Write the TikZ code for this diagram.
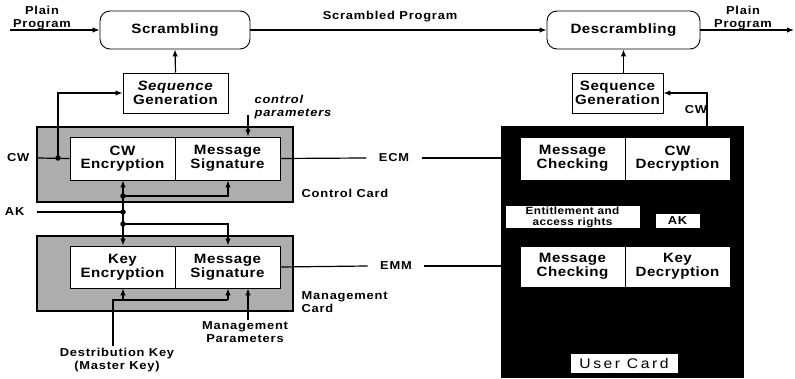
\documentclass[tikz,border=0pt]{standalone}
\usepackage{fontspec}
\setmainfont{Liberation Sans}
\newfontfamily\hv{Liberation Sans}[FakeStretch=1.12]
\newcommand\bxfont{\hv\bfseries\fontsize{13.5}{12.5}\selectfont\addfontfeatures{LetterSpace=4}}
\newcommand\lbfont{\hv\bfseries\fontsize{11.5}{13.5}\selectfont\addfontfeatures{LetterSpace=7}}
\newcommand\entfont{\hv\bfseries\fontsize{10.5}{11}\selectfont\addfontfeatures{LetterSpace=4}}
\newcommand\ucfont{\hv\fontsize{14}{14}\selectfont\addfontfeatures{LetterSpace=18}}
\usetikzlibrary{arrows.meta}
\tikzset{
  wb/.style={draw, line width=0.9pt, fill=white, inner sep=0pt, align=center, font=\bxfont},
  card/.style={draw, line width=1.8pt, fill=black!32, inner sep=0pt},
  lbl/.style={inner sep=1pt, align=center, font=\lbfont},
  arr/.style={-{Latex[length=7pt,width=5.5pt]}},
  jdot/.style={circle, fill, inner sep=0pt, minimum size=5.5pt},
}
\begin{document}
\begin{tikzpicture}[x=1pt,y=-1pt,line width=1.2pt]
\useasboundingbox (0,0) rectangle (795,379);

% top row
\node[wb, rounded corners=10pt, minimum width=150pt, minimum height=38pt] (scr) at (175,30) {Scrambling};
\node[wb, rounded corners=10pt, minimum width=153pt, minimum height=38pt] (descr) at (623.5,30) {Descrambling};
\node[wb, minimum width=105pt, minimum height=40pt] (seqL) at (175.5,93) {\textit{Sequence}\\Generation};
\node[wb, minimum width=91pt, minimum height=40pt] (seqR) at (617.5,93) {Sequence\\Generation};

\node[lbl] (ppin) at (42,18) {Plain\\Program};
\node[lbl] (ppout) at (743,18) {Plain\\Program};
\node[lbl] (scrprog) at (390,17) {Scrambled Program};
\coordinate (pin) at (10,30);
\coordinate (pout) at (794,30);

% control card
\node[card, minimum width=256pt, minimum height=75pt] (ccard) at (165,164.5) {};
\node[wb, minimum width=105pt, minimum height=43pt] (cwenc) at (122.5,158.5) {CW\\Encryption};
\node[wb, minimum width=105pt, minimum height=43pt] (msig1) at (227.5,158.5) {Message\\Signature};
\node[lbl, anchor=west] (cclbl) at (300,193) {Control Card};
\node[lbl, anchor=west, align=left, font=\lbfont\itshape] (cplbl) at (253,107) {control\\parameters};

% management card
\node[card, minimum width=256pt, minimum height=75pt] (mcard) at (165,273.5) {};
\node[wb, minimum width=105pt, minimum height=42pt] (keyenc) at (122.5,267) {Key\\Encryption};
\node[wb, minimum width=105pt, minimum height=42pt] (msig2) at (227.5,267) {Message\\Signature};
\node[lbl, anchor=west, align=left] (mclbl) at (300,302) {Management\\Card};
\node[lbl] (mplbl) at (245,332) {Management\\Parameters};
\node[lbl] (dklbl) at (117,360) {Destribution Key\\(Master Key)};

% left labels
\node[lbl, anchor=east, inner xsep=7pt] (cwl) at (37,158) {CW};
\node[lbl, anchor=east, inner xsep=12pt] (akl) at (37,212) {AK};
\node[lbl, inner xsep=12pt] (ecm) at (394,158) {ECM};
\node[lbl, inner xsep=12pt] (emm) at (396,266) {EMM};

% user card
\node[draw, fill=black, line width=1pt, minimum width=242pt, minimum height=250pt] (ucard) at (622,252) {};
\node[wb, minimum width=105pt, minimum height=43pt] (mchk1) at (572.5,158.5) {Message\\Checking};
\node[wb, minimum width=105pt, minimum height=43pt] (cwdec) at (677.5,158.5) {CW\\Decryption};
\node[wb, font=\entfont, minimum width=135pt, minimum height=23pt] (ent) at (572.5,217) {Entitlement and\\access rights};
\node[wb, font=\lbfont, minimum width=45pt, minimum height=15pt] (ak) at (677.5,220.5) {AK};
\node[wb, minimum width=105pt, minimum height=41pt] (mchk2) at (572.5,266.5) {Message\\Checking};
\node[wb, minimum width=105pt, minimum height=41pt] (keydec) at (677.5,266.5) {Key\\Decryption};
\node[wb, font=\ucfont, minimum width=108pt, minimum height=20pt] (uclbl) at (624,363) {User Card};
\node[lbl] (cwr) at (696,110) {CW};

% helper coordinates
\coordinate (xa) at (123,0);
\coordinate (xb) at (228,0);
\coordinate (xc) at (248,0);
\coordinate (xd) at (707,0);
\coordinate (cptop) at (248,115);
\node[jdot] (j1) at (58,158) {};
\node[jdot] (j2) at (123,196) {};
\node[jdot] (j3) at (123,212) {};
\node[jdot] (j4) at (123,224) {};
\coordinate (j5) at (113,300);

% top flow
\draw[arr] (pin) -- (scr.west);
\draw[arr] (scr.east) -- (descr.west);
\draw[arr] (descr.east) -- (pout);
\draw[arr] (seqL.north) -- (scr.south);
\draw[arr] (seqR.north -| descr.south) -- (descr.south);

% CW into control card
\draw (cwl.east) -- (cwenc.west);
\draw[arr] (j1.center) |- (seqL.west);
\draw[arr] (cptop) -- (cptop |- msig1.north);

% ECM / EMM
\draw (msig1.east) -- (ecm.west);
\draw (ecm.east) -- (ecm.east -| ucard.west);
\draw (msig2.east) -- (emm.west);
\draw (emm.east) -- (emm.east -| ucard.west);

% AK distribution
\draw (akl.east) -- (j3.center);
\draw[arr] (j4.center) -- (xa |- cwenc.south);
\draw[arr] (j2.center) -| (xb |- msig1.south);
\draw[arr] (j4.center) -- (xa |- keyenc.north);
\draw[arr] (j4.center) -| (xb |- msig2.north);

% bottom inputs
\draw (dklbl.north -| j5) -- (j5) -- (j5 -| xb);
\draw[arr] (j5 -| xa) -- (xa |- keyenc.south);
\draw[arr] (j5 -| xb) -- (xb |- msig2.south);
\draw[arr] (mplbl.north -| xc) -- (xc |- msig2.south);

% CW from user card
\draw[arr] (ucard.north -| xd) |- (seqR.east);
\end{tikzpicture}
\end{document}
